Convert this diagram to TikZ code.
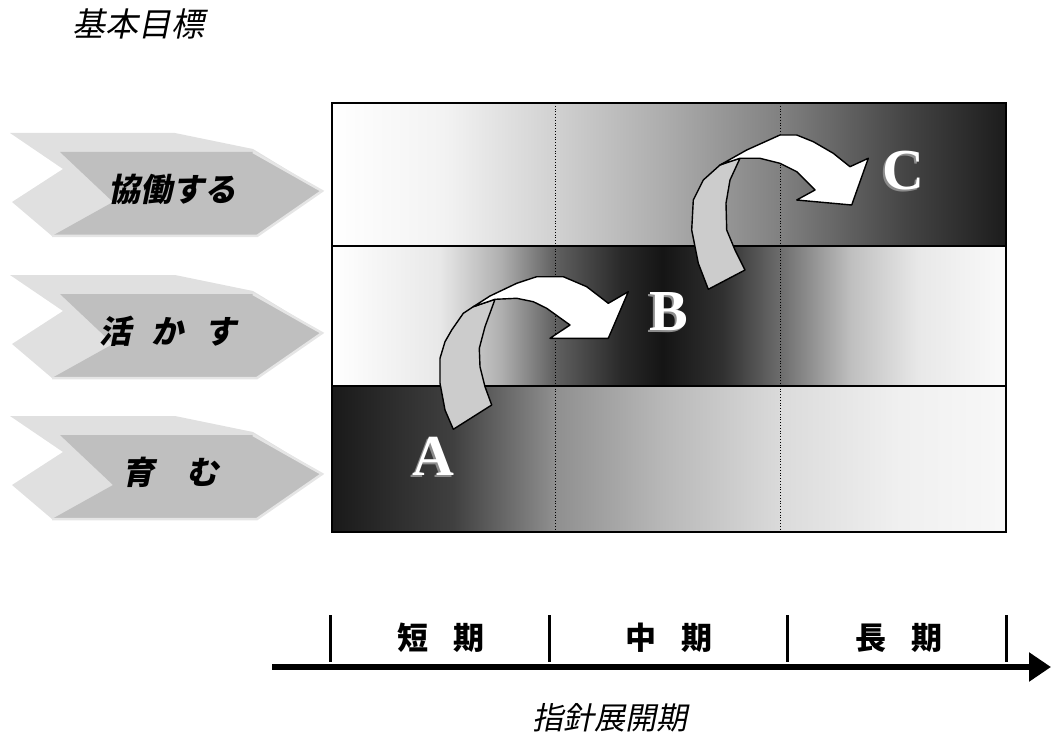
\documentclass[tikz,border=0pt]{standalone}
\usepackage{fontspec}
\usetikzlibrary{arrows.meta}
\newfontfamily\jpit[FakeSlant=0.2]{Noto Sans CJK JP}
\newfontfamily\jpbi[FakeSlant=0.2]{Noto Sans CJK JP}
\newfontfamily\jpbd{Noto Sans CJK JP}
\newfontfamily\lettfont{Liberation Serif}
\pgfdeclarehorizontalshading{rowtop}{100bp}{color(0bp)=(white); color(25bp)=(white); color(33.5bp)=(black!5); color(41.5bp)=(black!18); color(50bp)=(black!33); color(58.5bp)=(black!50); color(67.5bp)=(black!73); color(75bp)=(black!89); color(100bp)=(black!89)}
\pgfdeclarehorizontalshading{rowmid}{100bp}{color(0bp)=(white); color(25bp)=(white); color(33bp)=(black!9); color(37.5bp)=(black!31); color(41.5bp)=(black!62); color(46.5bp)=(black!84); color(49.5bp)=(black!92); color(54bp)=(black!81); color(58.5bp)=(black!56); color(63.5bp)=(black!25); color(68.5bp)=(black!9); color(75bp)=(black!2); color(100bp)=(black!2)}
\pgfdeclarehorizontalshading{rowbot}{100bp}{color(0bp)=(black!90); color(25bp)=(black!90); color(34bp)=(black!75); color(41.5bp)=(black!44); color(49.5bp)=(black!28); color(58.5bp)=(black!14); color(67bp)=(black!6); color(75bp)=(black!3); color(100bp)=(black!3)}
\tikzset{
  chevron/.pic={
    \fill[black!12] (10,-58) -- (175,-58) -- (253,-42) -- (322,0) -- (257,45) -- (52,45) -- (12,11) -- (63,-22) -- cycle;
    \fill[black!25] (60,-39) -- (253,-39) -- (322,0) -- (257,45) -- (52,45) -- (113,11) -- cycle;
    \draw[black!10,line width=2.5pt] (253,-39) -- (322,0) -- (257,45) -- (52,45);
  },
  goallabel/.style={font=\jpbi\bfseries\fontsize{32}{32}\selectfont, inner sep=0pt},
  periodlabel/.style={font=\jpbd\bfseries\fontsize{31}{31}\selectfont, inner sep=0pt},
  caption/.style={font=\jpit\fontsize{31}{31}\selectfont, inner sep=0pt},
  letter/.style={font=\lettfont\bfseries\fontsize{58}{58}\selectfont, text=white, inner sep=0pt},
  lettershadow/.style={font=\lettfont\bfseries\fontsize{58}{58}\selectfont, text=black!45, inner sep=0pt},
  tailpart/.style={fill=black!20, draw=black, line width=1.4pt, line join=round},
  headpart/.style={fill=white, draw=black, line width=1.4pt, line join=round},
  divider/.style={black, line width=0.8pt, dotted},
  tick/.style={black, line width=3pt}
}
\begin{document}
\begin{tikzpicture}[x=1pt,y=-1pt]
\useasboundingbox (0,0) rectangle (1052,746);
% grid rows
\shade[shading=rowtop] (332,103) rectangle (1006,246);
\shade[shading=rowmid] (332,246) rectangle (1006,386);
\shade[shading=rowbot] (332,386) rectangle (1006,532);
\draw[divider] (555,103) -- (555,532);
\draw[divider] (780,103) -- (780,532);
\draw[black, line width=1.5pt] (332,246) -- (1006,246);
\draw[black, line width=1.5pt] (332,386) -- (1006,386);
\draw[black, line width=1.5pt] (332,103) rectangle (1006,532);
% chevrons
\pic at (0,191) {chevron};
\pic at (0,333) {chevron};
\pic at (0,474) {chevron};
\node[goallabel] (g1) at (172,189) {協働する};
\node[goallabel] (g2) at (168,331) {活\hspace{21pt}か\hspace{21pt}す};
\node[goallabel] (g3) at (170,472) {育\hspace{32pt}む};
% title
\node[caption, font=\jpit\fontsize{33}{33}\selectfont] (title) at (138,24) {基本目標};
% arrow A->B
\path[tailpart] (453.3,429.3) -- (445,410) -- (440,383.3) -- (440,358.3) -- (445,341.7) -- (451.7,330) -- (463.3,313.3) -- (473.3,306.7) -- (495,299.3) -- (485,326.7) -- (479.3,348.3) -- (480,366.7) -- (485,386.7) -- (491.7,405) -- cycle;
\path[headpart] (473.3,306.7) -- (490,296) -- (516.7,283.3) -- (536.7,276.7) -- (563.3,276.7) -- (586.7,286.7) -- (608.3,303.3) -- (628.3,291.7) -- (608.3,338.3) -- (550,338.3) -- (570,325) -- (546.7,308.3) -- (533.3,301.7) -- (516.7,298.3) -- (495,299.3) -- cycle;
% arrow B->C
\path[tailpart] (708.3,289.3) -- (698.3,263.3) -- (691.7,230) -- (693.3,200) -- (703.3,180) -- (720,165) -- (728.3,161.7) -- (740,158.3) -- (730,180) -- (726,203.3) -- (726.7,230) -- (735,250) -- (745,270) -- cycle;
\path[headpart] (720,165) -- (746.7,150) -- (780,135) -- (796.7,135) -- (813.3,141.7) -- (833.3,153.3) -- (850,166.7) -- (868.3,158.3) -- (851.7,205) -- (796.7,200) -- (815,190) -- (796.7,171.7) -- (780,163.3) -- (760,158.3) -- (740,158.3) -- cycle;
% letters
\node[lettershadow] (As) at (431,458) {A};
\node[letter] (A) at (433,456) {A};
\node[lettershadow] (Bs) at (667,314) {B};
\node[letter] (B) at (669,312) {B};
\node[lettershadow] (Cs) at (901,173) {C};
\node[letter] (C) at (903,171) {C};
% time axis
\coordinate (axL) at (272,667);
\coordinate (axR) at (1051,667);
\draw[line width=5.5pt, -{Triangle[length=22pt,width=28pt]}] (axL) -- (axR);
\coordinate (k1t) at (330,615); \coordinate (k1b) at (330,662);
\coordinate (k2t) at (549,615); \coordinate (k2b) at (549,662);
\coordinate (k3t) at (787,615); \coordinate (k3b) at (787,662);
\coordinate (k4t) at (1006,615); \coordinate (k4b) at (1006,662);
\draw[tick] (k1t) -- (k1b);
\draw[tick] (k2t) -- (k2b);
\draw[tick] (k3t) -- (k3b);
\draw[tick] (k4t) -- (k4b);
\node[periodlabel] (p1) at (441,638) {短\hspace{26pt}期};
\node[periodlabel] (p2) at (669,638) {中\hspace{26pt}期};
\node[periodlabel] (p3) at (899,638) {長\hspace{26pt}期};
\node[caption] (xlabel) at (610,718) {指針展開期};
\end{tikzpicture}
\end{document}
